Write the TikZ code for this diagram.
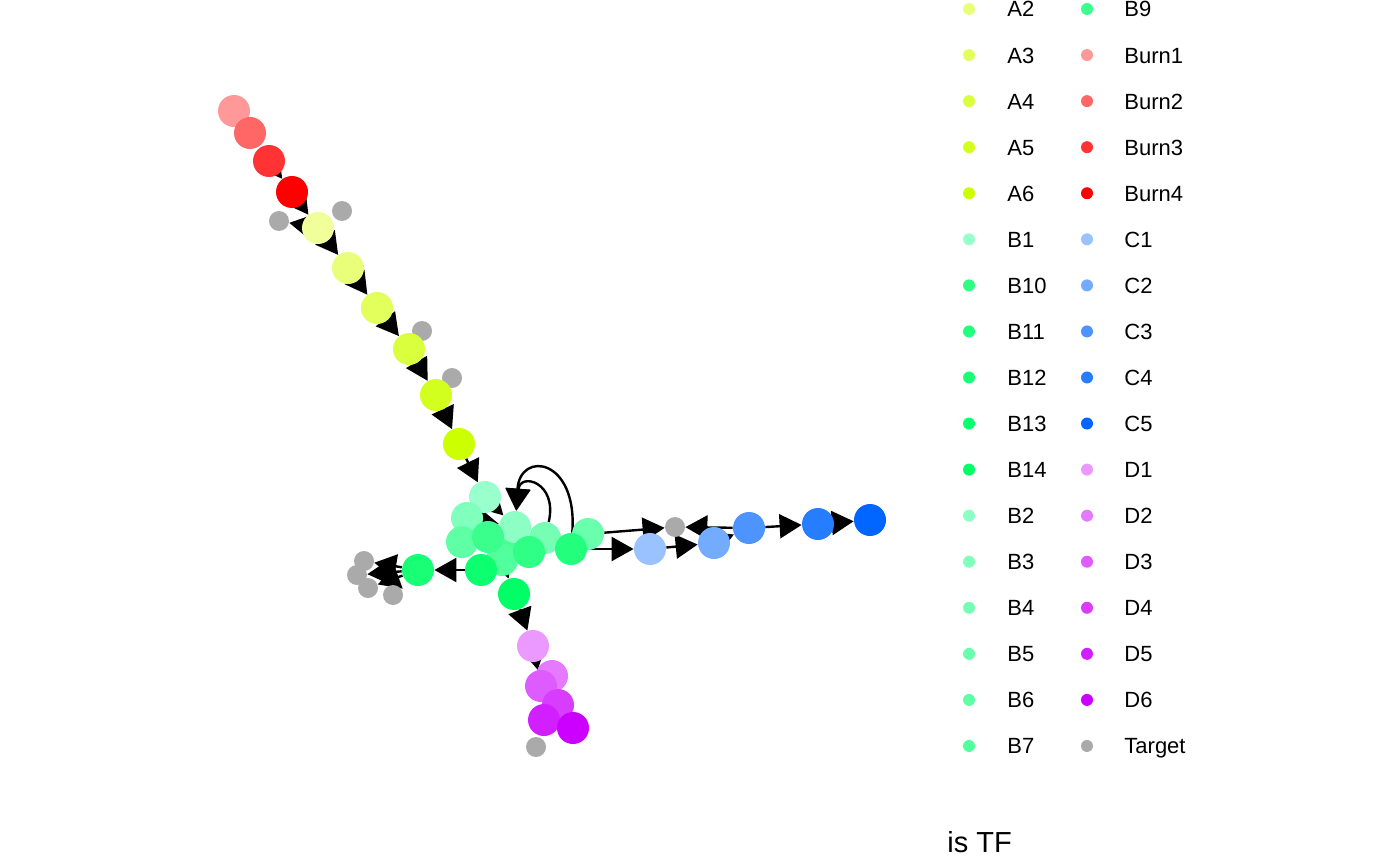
\documentclass[tikz,border=0pt]{standalone}
\usepackage{fontspec}
\setmainfont{Liberation Sans}
\usetikzlibrary{arrows.meta}
\definecolor{cA1}{RGB}{240,255,153}
\definecolor{cA2}{RGB}{233,255,122}
\definecolor{cA3}{RGB}{226,255,92}
\definecolor{cA4}{RGB}{218,255,61}
\definecolor{cA5}{RGB}{211,255,31}
\definecolor{cA6}{RGB}{204,255,0}
\definecolor{cB1}{RGB}{153,255,204}
\definecolor{cB2}{RGB}{141,255,196}
\definecolor{cB3}{RGB}{129,255,188}
\definecolor{cB4}{RGB}{118,255,180}
\definecolor{cB5}{RGB}{106,255,173}
\definecolor{cB6}{RGB}{94,255,165}
\definecolor{cB7}{RGB}{82,255,157}
\definecolor{cB8}{RGB}{71,255,149}
\definecolor{cB9}{RGB}{59,255,141}
\definecolor{cB10}{RGB}{47,255,133}
\definecolor{cB11}{RGB}{35,255,125}
\definecolor{cB12}{RGB}{24,255,118}
\definecolor{cB13}{RGB}{12,255,110}
\definecolor{cB14}{RGB}{0,255,102}
\definecolor{cBurn1}{RGB}{255,153,153}
\definecolor{cBurn2}{RGB}{255,102,102}
\definecolor{cBurn3}{RGB}{255,51,51}
\definecolor{cBurn4}{RGB}{255,0,0}
\definecolor{cC1}{RGB}{153,194,255}
\definecolor{cC2}{RGB}{115,171,255}
\definecolor{cC3}{RGB}{77,148,255}
\definecolor{cC4}{RGB}{38,125,255}
\definecolor{cC5}{RGB}{0,102,255}
\definecolor{cD1}{RGB}{235,153,255}
\definecolor{cD2}{RGB}{229,122,255}
\definecolor{cD3}{RGB}{222,92,255}
\definecolor{cD4}{RGB}{216,61,255}
\definecolor{cD5}{RGB}{210,31,255}
\definecolor{cD6}{RGB}{204,0,255}
\definecolor{cTarget}{RGB}{170,170,170}
\pgfdeclarelayer{edgelayer}
\pgfsetlayers{edgelayer,main}

\begin{document}
\begin{tikzpicture}[x=0.5pt,y=-0.5pt]
    \tikzstyle{gene}=[circle,inner sep=0pt,minimum size=16pt]
    \tikzstyle{target}=[circle,inner sep=0pt,minimum size=10pt,fill=cTarget]
    \tikzstyle{arc}=[line width=1.2pt,-{Triangle[length=11pt,width=12pt]}]
    \tikzstyle{key}=[circle,inner sep=0pt,minimum size=6pt]
    \tikzstyle{keytext}=[anchor=base west,inner sep=0pt,font=\fontsize{11}{13}\selectfont]
    \useasboundingbox (0,0) rectangle (1400,866);
    \foreach \n/\x/\y in {T1/279/221,T2/342/211,T3/422/331,T4/452/378,T5/364/561,
        T6/357/575,T7/368/588,T8/393/595,T9/675/527,T10/536/747}
      \node[target] (\n) at (\x,\y) {};
    \foreach \n/\x/\y in {Burn1/234/111,Burn2/250/133,Burn3/269/161,Burn4/292/192,
        A1/318/228,A2/348/268,A3/377/308,A4/409/349,A5/436/395,A6/459/444,
        B8/505/542,B1/485/497,B3/467/518,B2/515/527,B7/502/560,B6/462/542,
        B9/488/537,B4/545/538,B10/529/552,B13/481/570,B5/588/534,B11/571/549,
        B12/418/570,B14/514/594,
        C1/650/549,C2/714/543,C3/749/528,C4/818/524,C5/870/520,
        D1/533/646,D2/552/676,D3/541/686,D4/558/705,D5/544/720,D6/573/728}
      \node[gene,fill=c\n] (\n) at (\x,\y) {};
    \begin{pgfonlayer}{edgelayer}
      \foreach \a/\b in {Burn3/Burn4,Burn4/A1,A1/T1,A1/A2,A2/A3,A3/A4,A4/A5,A5/A6,
          A6/B1,B1/B2,B3/B2,B13/B12,B12/T5,B12/T6,B12/T7,B7/B14,B14/D1,D1/D3,
          B11/C1,B5/T9,C1/C2,C2/C3,C3/T9,C3/C4,C4/C5}
        \draw[arc] (\a) -- (\b);
      \draw[arc] (B11) .. controls (578,458) and (520,450) .. (B2);
      \draw[arc] (B4) .. controls (558,482) and (520,472) .. (B2);
    \end{pgfonlayer}
    \foreach \lab [count=\i from 0] in {A2,A3,A4,A5,A6,B1,B10,B11,B12,B13,B14,B2,B3,B4,B5,B6,B7}
      {\node[key,fill=c\lab] (k\lab) at (969,{9+46.06*\i}) {};
       \node[keytext] (l\lab) at (1007,{17+46.06*\i}) {\lab};}
    \foreach \lab [count=\i from 0] in {B9,Burn1,Burn2,Burn3,Burn4,C1,C2,C3,C4,C5,D1,D2,D3,D4,D5,D6,Target}
      {\node[key,fill=c\lab] (k\lab) at (1087,{9+46.06*\i}) {};
       \node[keytext] (l\lab) at (1124,{17+46.06*\i}) {\lab};}
    \node[anchor=base west,inner sep=0pt,font=\fontsize{14.5}{17}\selectfont] (title) at (947,852) {is TF};
\end{tikzpicture}
\end{document}
